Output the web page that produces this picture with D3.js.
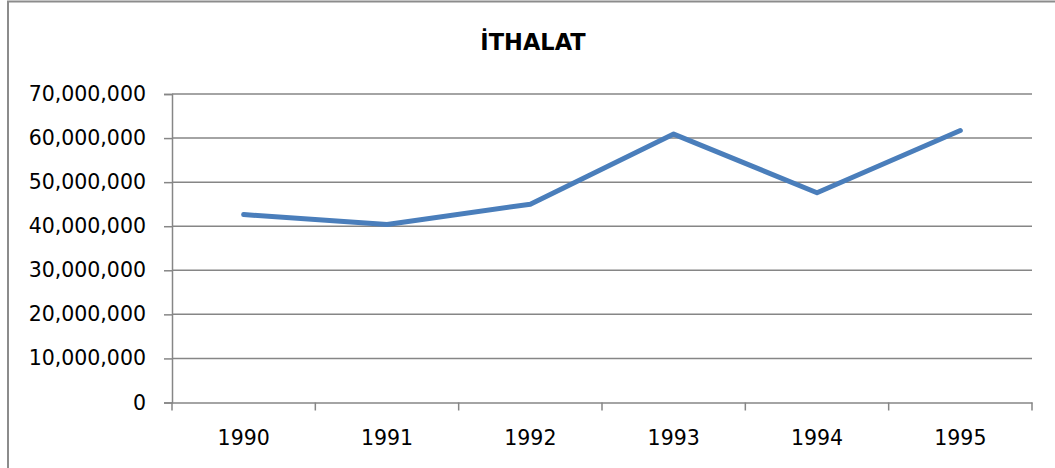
<!DOCTYPE html>
<html>
<head>
<meta charset="utf-8">
<script src="https://cdn.jsdelivr.net/npm/d3@7"></script>
<style>
  html, body { margin: 0; padding: 0; background: #fff; }
  svg { display: block; }
</style>
</head>
<body>
<svg id="chart" width="1055" height="468"></svg>
<script>
const title = "İTHALAT";
const years = ["1990", "1991", "1992", "1993", "1994", "1995"];
const values = [42650000, 40400000, 45000000, 60900000, 47600000, 61700000];
const yTicks = [0, 10000000, 20000000, 30000000, 40000000, 50000000, 60000000, 70000000];

const svg = d3.select("#chart");
const W = 1055, H = 468;
const plot = { left: 172, right: 1032, top: 94, bottom: 402.5 };
const fontFam = "'DejaVu Sans', sans-serif";

// outer chart border
svg.append("rect")
  .attr("x", 8).attr("y", 1.5)
  .attr("width", 1200).attr("height", 800)
  .attr("fill", "#fff")
  .attr("stroke", "#8c8c8c").attr("stroke-width", 2);

const x = d3.scaleBand().domain(years).range([plot.left, plot.right]);
const y = d3.scaleLinear().domain([0, 70000000]).range([plot.bottom, plot.top]);

// gridlines + y axis
const yAxis = d3.axisLeft(y)
  .tickValues(yTicks)
  .tickSize(8)
  .tickPadding(18)
  .tickFormat(d3.format(","));
const gy = svg.append("g").attr("transform", `translate(${plot.left},0)`).call(yAxis);
gy.select(".domain").attr("stroke", "#868686").attr("stroke-width", 1.5);
gy.selectAll(".tick line").attr("stroke", "#868686").attr("stroke-width", 1.5);
gy.selectAll(".tick text")
  .attr("font-family", fontFam).attr("font-size", 20.5).attr("fill", "#000");

svg.append("g").selectAll("line").data(yTicks.filter(d => d > 0)).join("line")
  .attr("x1", plot.left).attr("x2", plot.right)
  .attr("y1", d => y(d)).attr("y2", d => y(d))
  .attr("stroke", "#868686").attr("stroke-width", 1.5);

// x axis
const xAxis = d3.axisBottom(x).tickSize(0).tickPadding(0);
const gx = svg.append("g").attr("transform", `translate(0,${plot.bottom})`).call(xAxis);
gx.select(".domain").attr("stroke", "#868686").attr("stroke-width", 1.5);
gx.selectAll(".tick text")
  .attr("font-family", fontFam).attr("font-size", 20.5).attr("fill", "#000")
  .attr("dy", 0).attr("y", 42);
// category boundary ticks
const bounds = years.map(d => x(d)).concat([x(years[years.length - 1]) + x.bandwidth()]);
svg.append("g").selectAll("line").data(bounds).join("line")
  .attr("x1", d => d).attr("x2", d => d)
  .attr("y1", plot.bottom).attr("y2", plot.bottom + 8)
  .attr("stroke", "#868686").attr("stroke-width", 1.5);

// line
const line = d3.line()
  .x((d, i) => x(years[i]) + x.bandwidth() / 2)
  .y(d => y(d));
svg.append("path").datum(values)
  .attr("d", line)
  .attr("fill", "none")
  .attr("stroke", "#4a7ebb")
  .attr("stroke-width", 5)
  .attr("stroke-linejoin", "round")
  .attr("stroke-linecap", "round");

// title
svg.append("text")
  .attr("x", 533).attr("y", 49.5)
  .attr("text-anchor", "middle")
  .attr("font-family", fontFam).attr("font-weight", "bold").attr("font-size", 22.5)
  .attr("fill", "#000")
  .text(title);
</script>
</body>
</html>
